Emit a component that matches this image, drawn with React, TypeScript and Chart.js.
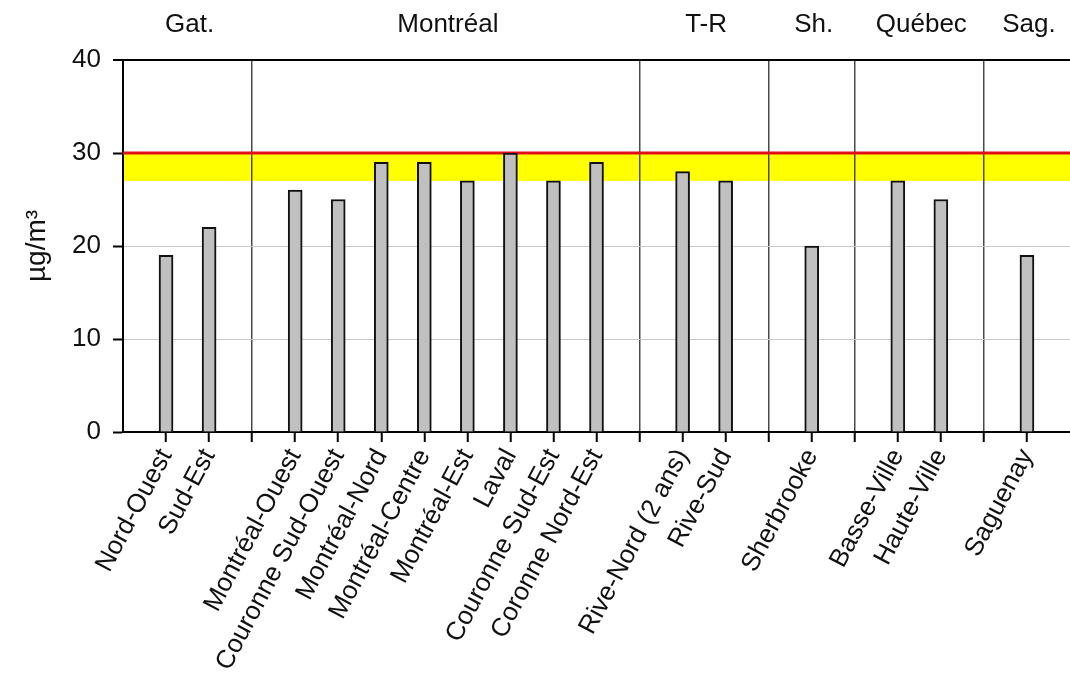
import React, { useEffect, useRef } from 'react';
import { Chart, registerables } from 'chart.js';

Chart.register(...registerables);

// Slots along the x axis ('' = empty separator slot between groups)
const categories: string[] = [
  '', 'Nord-Ouest', 'Sud-Est', '',
  'Montréal-Ouest', 'Couronne Sud-Ouest', 'Montréal-Nord', 'Montréal-Centre',
  'Montréal-Est', 'Laval', 'Couronne Sud-Est', 'Coronne Nord-Est', '',
  'Rive-Nord (2 ans)', 'Rive-Sud', '',
  'Sherbrooke', '',
  'Basse-Ville', 'Haute-Ville', '',
  'Saguenay', '',
];
const values: (number | null)[] = [
  null, 19, 22, null,
  26, 25, 29, 29, 27, 30, 27, 29, null,
  28, 27, null,
  20, null,
  27, 25, null,
  19, null,
];
const groupLabels: string[] = ['Gat.', 'Montréal', 'T-R', 'Sh.', 'Québec', 'Sag.'];
const groupFirst: number[] = [1, 4, 13, 16, 18, 21];
const groupLast: number[] = [2, 11, 14, 16, 19, 21];
const yMin = 0;
const yMax = 40;
const yStep = 10;
const standardValue = 30;
const bandLow = 27;
const yTitle = 'µg/m³';

const FONT = '"Liberation Sans", Arial, Helvetica, sans-serif';
const TEXT = '#111111';

const bandPlugin = {
  id: 'bandPlugin',
  beforeDraw(chart: any) {
    const { ctx, chartArea, scales } = chart;
    const y = scales.y;
    const top = y.getPixelForValue(standardValue);
    const bot = y.getPixelForValue(bandLow);
    ctx.save();
    ctx.fillStyle = '#ffff00';
    ctx.fillRect(chartArea.left, top, chartArea.right - chartArea.left, bot - top);
    ctx.restore();
  },
  beforeDatasetsDraw(chart: any) {
    const { ctx, chartArea, scales } = chart;
    const yy = scales.y.getPixelForValue(standardValue);
    ctx.save();
    ctx.strokeStyle = '#e0101a';
    ctx.lineWidth = 3;
    ctx.beginPath();
    ctx.moveTo(chartArea.left, yy);
    ctx.lineTo(chartArea.right, yy);
    ctx.stroke();
    ctx.restore();
  },
  afterDraw(chart: any) {
    const { ctx, scales } = chart;
    const x = scales.x;
    ctx.save();
    ctx.fillStyle = TEXT;
    ctx.font = `26px ${FONT}`;
    ctx.textAlign = 'center';
    ctx.textBaseline = 'middle';
    groupLabels.forEach((lab, i) => {
      const cx = (x.getPixelForValue(groupFirst[i]) + x.getPixelForValue(groupLast[i])) / 2;
      ctx.fillText(lab, cx + 2, 25);
    });
    ctx.restore();
  },
};

export default function App() {
  const ref = useRef<HTMLCanvasElement | null>(null);

  useEffect(() => {
    if (!ref.current) return;
    const last = categories.length - 1;
    const chart = new Chart(ref.current, {
      type: 'bar',
      data: {
        labels: categories,
        datasets: [
          {
            data: values as any,
            backgroundColor: '#c0c0c0',
            borderColor: '#111111',
            borderWidth: 2,
            barThickness: 14,
          },
        ],
      },
      plugins: [bandPlugin],
      options: {
        animation: false,
        responsive: false,
        devicePixelRatio: 1,
        layout: { padding: { top: 60, left: 0, right: 0, bottom: 0 } },
        plugins: { legend: { display: false }, tooltip: { enabled: false } },
        scales: {
          x: {
            type: 'category',
            offset: false,
            grid: {
              offset: false,
              drawOnChartArea: true,
              color: (c: any) =>
                c.index > 0 && c.index < last && categories[c.index] === '' ? '#4a4a4a' : 'rgba(0,0,0,0)',
              lineWidth: 1.5,
              tickLength: 10,
              tickColor: (c: any) => (c.index === 0 || c.index === last ? 'rgba(0,0,0,0)' : '#000000'),
              tickWidth: 2,
            },
            border: { color: '#000000', width: 2 },
            ticks: {
              autoSkip: false,
              maxRotation: 62,
              minRotation: 62,
              padding: 2,
              color: TEXT,
              font: { family: FONT, size: 26 },
            },
            afterFit: (s: any) => {
              s.height = 245;
              s.paddingLeft = 0;
              s.paddingRight = 0;
            },
          },
          y: {
            min: yMin,
            max: yMax,
            grid: {
              color: (c: any) => (c.tick && c.tick.value === yMax ? '#000000' : '#c8c8c8'),
              lineWidth: (c: any) => (c.tick && c.tick.value === yMax ? 2 : 1),
              tickLength: 10,
              tickColor: '#000000',
              tickWidth: 2,
            },
            border: { color: '#000000', width: 2 },
            ticks: {
              stepSize: yStep,
              padding: 12,
              color: TEXT,
              font: { family: FONT, size: 26 },
            },
            title: {
              display: true,
              text: yTitle,
              color: TEXT,
              font: { family: FONT, size: 28 },
              padding: { top: 20, bottom: 0 },
            },
            afterFit: (s: any) => {
              s.width = 123;
            },
          },
        },
      },
    } as any);
    return () => chart.destroy();
  }, []);

  return (
    <div style={{ position: 'fixed', left: 0, top: 0, width: 1070, height: 677, background: '#fff' }}>
      <canvas ref={ref} width={1070} height={677} />
    </div>
  );
}
